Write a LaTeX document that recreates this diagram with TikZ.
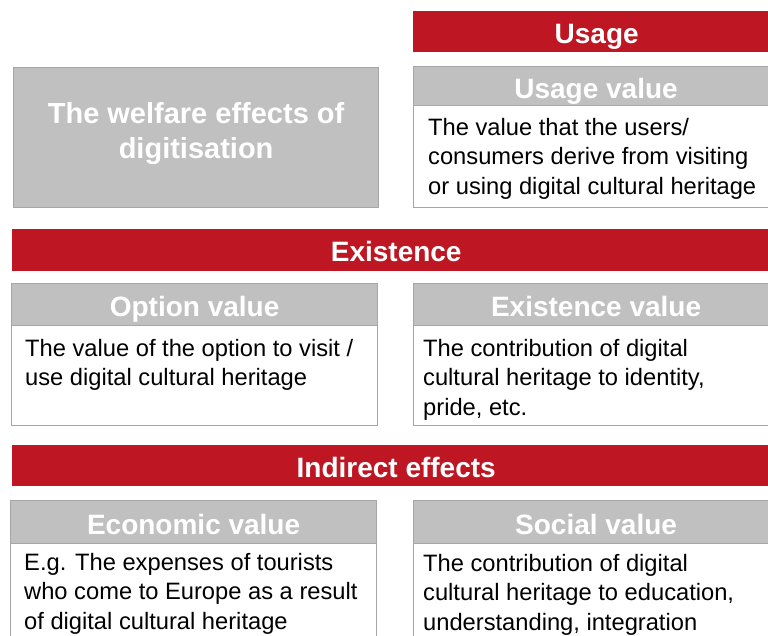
\documentclass[tikz,border=0pt]{standalone}
\usepackage{fontspec}
\setmainfont{Liberation Sans}
\usetikzlibrary{positioning}

\definecolor{effred}{HTML}{BE1622}
\definecolor{headgray}{HTML}{C0C0C0}
\definecolor{edgegray}{HTML}{A6A6A6}

\tikzset{
    bar/.style={fill=effred, anchor=north west, inner sep=0pt, minimum height=41pt,
        text=white, font=\bfseries\fontsize{28}{32}\selectfont, text height=23pt, text depth=0pt},
    headbox/.style={fill=headgray, draw=edgegray, line width=1.2pt, anchor=north west, inner sep=0pt,
        text=white, font=\bfseries\fontsize{28}{32}\selectfont, text height=24pt, text depth=0pt},
    bodybox/.style={fill=white, draw=edgegray, line width=1.2pt, anchor=north west, inner sep=0pt},
    bodytext/.style={anchor=north west, inner sep=0pt, align=left, font=\fontsize{23.7}{29.5}\selectfont},
    welfare/.style={fill=headgray, draw=edgegray, line width=1.2pt, anchor=north west, inner sep=0pt,
        align=center, text=white, font=\bfseries\fontsize{29}{35}\selectfont},
}

\begin{document}
\begin{tikzpicture}[x=1pt, y=-1pt]
    \useasboundingbox (0,0) rectangle (768,636);
    \clip (0,0) rectangle (768,636);

    \node[welfare, minimum width=365pt, minimum height=140pt] (welfare) at (13,67)
        {The welfare effects of\\digitisation\rule[-14pt]{0pt}{14pt}};

    % usage
    \node[bar, minimum width=367pt] (usagebar) at (413,11) {Usage};
    \node[headbox, minimum width=365pt, minimum height=39pt] (usagehead) at (413,66) {Usage value};
    \node[bodybox, minimum width=365pt, minimum height=102pt] (usagebody) at (413,105) {};
    \node[bodytext] (usagetext) at ([xshift=15pt, yshift=-13pt]usagebody.north west)
        {The value that the users/\\consumers derive from visiting\\or using digital cultural heritage};

    % existence
    \node[bar, minimum width=768pt, minimum height=42pt] (existbar) at (12,229) {Existence};
    \node[headbox, minimum width=366pt, minimum height=42pt] (optionhead) at (11,283) {Option value};
    \node[bodybox, minimum width=366pt, minimum height=100pt] (optionbody) at (11,325) {};
    \node[bodytext] (optiontext) at ([xshift=14pt, yshift=-14pt]optionbody.north west)
        {The value of the option to visit /\\use digital cultural heritage};
    \node[headbox, minimum width=365pt, minimum height=42pt] (existhead) at (413,283) {Existence value};
    \node[bodybox, minimum width=365pt, minimum height=100pt] (existbody) at (413,325) {};
    \node[bodytext] (existtext) at ([xshift=10pt, yshift=-14pt]existbody.north west)
        {The contribution of digital\\cultural heritage to identity,\\pride, etc.};

    % indirect effects
    \node[bar, minimum width=768pt] (indirbar) at (12,445) {Indirect effects};
    \node[headbox, minimum width=366pt, minimum height=43pt] (econhead) at (10,500) {Economic value};
    \node[bodybox, minimum width=366pt, minimum height=120pt] (econbody) at (10,543) {};
    \node[bodytext] (econtext) at ([xshift=14pt, yshift=-10pt]econbody.north west)
        {E.g. The expenses of tourists\\who come to Europe as a result\\of digital cultural heritage};
    \node[headbox, minimum width=365pt, minimum height=43pt] (socialhead) at (413,500) {Social value};
    \node[bodybox, minimum width=365pt, minimum height=120pt] (socialbody) at (413,543) {};
    \node[bodytext] (socialtext) at ([xshift=10pt, yshift=-11pt]socialbody.north west)
        {The contribution of digital\\cultural heritage to education,\\understanding, integration};
\end{tikzpicture}
\end{document}
